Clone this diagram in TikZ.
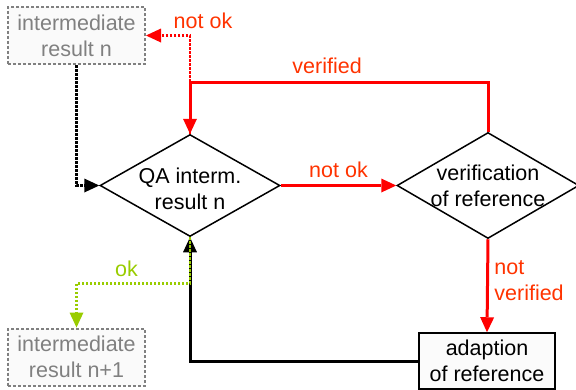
\documentclass[tikz,border=0pt]{standalone}
\usepackage{fontspec}
\setmainfont{Liberation Sans}
\usepackage{tikz}
\usetikzlibrary{arrows.meta, calc, shapes.geometric, positioning}
\definecolor{linered}{RGB}{255, 0, 0}
\definecolor{labelred}{RGB}{255, 51, 0}
\definecolor{okgreen}{RGB}{153, 204, 0}
\definecolor{boxgray}{RGB}{128, 128, 128}

\tikzset{
  resultbox/.style={rectangle, draw=boxgray, dash pattern=on 3pt off 2pt, line width=2pt,
    fill=gray!4, text=boxgray, align=center, minimum width=137pt, minimum height=57pt, inner sep=0pt},
  decision/.style={diamond, draw=black, line width=1.5pt, inner sep=0pt},
  taskbox/.style={rectangle, draw=black, line width=1.5pt, fill=gray!3, align=center,
    minimum width=136pt, minimum height=56pt, inner sep=0pt},
  tip/.style={-{Triangle[length=15pt,width=14pt,line width=0pt]}},
  flowred/.style={tip, linered, line width=3pt},
  flowblack/.style={tip, black, line width=3pt},
  dotline/.style={tip, line width=2.5pt, dash pattern=on 2.5pt off 1.5pt},
  dotblack/.style={dotline, black},
  dotred/.style={dotline, linered},
  dotgreen/.style={dotline, okgreen},
  redlabel/.style={text=labelred, align=left},
}

\begin{document}
\begin{tikzpicture}[x=1pt, y=-1pt, line cap=butt, line join=miter, font=\fontsize{21.5}{26}\selectfont]

    \useasboundingbox (0,0) rectangle (576,389);

    % intermediate results
    \node[resultbox] (resn) at (76.5,35.5) {intermediate\\result n};
    \node[resultbox] (resnext) at (76.5,357) {intermediate\\result n+1};

    % decisions
    \node[decision, minimum width=180pt, minimum height=102pt,
          label={[align=center, yshift=-3pt]center:QA interm.\\result n}] (qa) at (190,185.5) {};
    \node[decision, minimum width=182pt, minimum height=106pt,
          label={[align=center]center:verification\\of reference}] (verif) at (488,185.5) {};

    % correction step
    \node[taskbox] (adapt) at (487,361) {adaption\\of reference};

    % turning points
    \coordinate (vturn) at ($(verif.north)+(0,-49.5)$);
    \coordinate (okturn) at ($(qa.south)+(0,46)$);

    % input of the check
    \draw[dotblack] (resn.south) |- (qa.west);

    % back to the previous result
    \draw[dotred] (qa.north) |- node[pos=0.5, above=2pt, xshift=13pt, redlabel] {not ok} (resn.east);

    % adapted reference loops back
    \draw[flowblack] (adapt.west) -| (qa.south);

    % result accepted
    \draw[dotgreen] (qa.south) -- (okturn) -| node[pos=0.28, above=2pt, text=okgreen] {ok} (resnext.north);

    % reference check
    \draw[flowred] (qa.east) -- node[above=3pt, redlabel] {not ok} (verif.west);
    \draw[flowred] (verif.north) -- (vturn) -| node[pos=0.27, above=4pt, redlabel] {verified} (qa.north);
    \draw[flowred] (verif.south) -- node[pos=0.44, right=2pt, redlabel] {not\\verified} (adapt.north);

\end{tikzpicture}
\end{document}
